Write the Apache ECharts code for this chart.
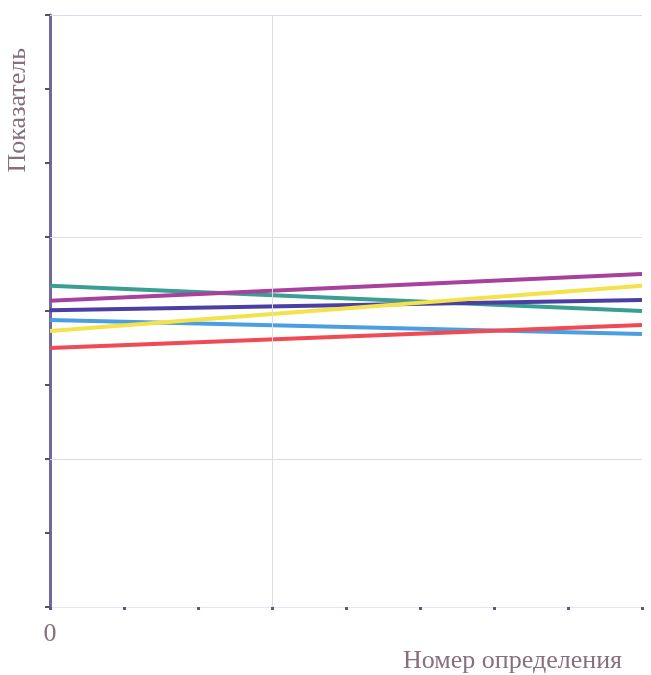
<!DOCTYPE html>
<html><head><meta charset="utf-8">
<script src="https://cdn.jsdelivr.net/npm/echarts@6/dist/echarts.min.js"></script>
<style>html,body{margin:0;padding:0;background:#fff}#c{width:651px;height:675px}</style>
</head><body><div id="c"></div>
<script>
const xValues = [0, 8];
const teal = [4.34, 4.0];
const magenta = [4.14, 4.50];
const indigo = [4.01, 4.15];
const lightBlue = [3.88, 3.69];
const yellow = [3.73, 4.34];
const red = [3.50, 3.81];
const hGrid = [2, 5, 8];
const vGrid = [3];
const yName = 'Показатель';
const xName = 'Номер определения';

const zip = v => xValues.map((x, i) => [x, v[i]]);
const mk = (name, vals, color) => ({
  name, type: 'line', data: zip(vals), symbol: 'none',
  lineStyle: { color, width: 4 }, z: 3
});

const chart = echarts.init(document.getElementById('c'));
chart.setOption({
  animation: false,
  grid: { left: 50, top: 15, right: 9, bottom: 68 },
  xAxis: {
    type: 'value', min: 0, max: 8, interval: 1,
    axisLine: { show: true, lineStyle: { color: '#e6e6ee', width: 1 } },
    axisTick: { show: true, length: 3, lineStyle: { color: '#5a5a80', width: 3 } },
    axisLabel: { formatter: v => v === 0 ? '0' : '', margin: 14,
      fontFamily: 'Liberation Serif', fontSize: 26, color: '#86707e' },
    splitLine: { show: false }
  },
  yAxis: {
    type: 'value', min: 0, max: 8, interval: 1,
    axisLine: { show: true, lineStyle: { color: '#6e6a9c', width: 3 } },
    axisTick: { show: true, length: 5, lineStyle: { color: '#555', width: 2 } },
    axisLabel: { show: false },
    splitLine: { show: false }
  },
  graphic: [
    { type: 'text', left: 5, top: 48, rotation: Math.PI / 2,
      style: { text: yName, font: '26px "Liberation Serif"', fill: '#86707e' } },
    { type: 'text', right: 29, top: 648,
      style: { text: xName, font: '26px "Liberation Serif"', fill: '#86707e' } }
  ],
  series: [
    {
      type: 'line', data: [], silent: true,
      markLine: {
        symbol: 'none', silent: true, label: { show: false },
        lineStyle: { color: '#dcdce6', width: 1, type: 'solid' },
        data: hGrid.map(y => ({ yAxis: y })).concat(vGrid.map(x => ({ xAxis: x })))
      }
    },
    mk('teal', teal, '#3a9e92'),
    mk('indigo', indigo, '#4b3fa6'),
    mk('lightBlue', lightBlue, '#4a9ee2'),
    mk('yellow', yellow, '#f3e24a'),
    mk('magenta', magenta, '#a7419c'),
    mk('red', red, '#f04a55')
  ]
});
</script></body></html>
